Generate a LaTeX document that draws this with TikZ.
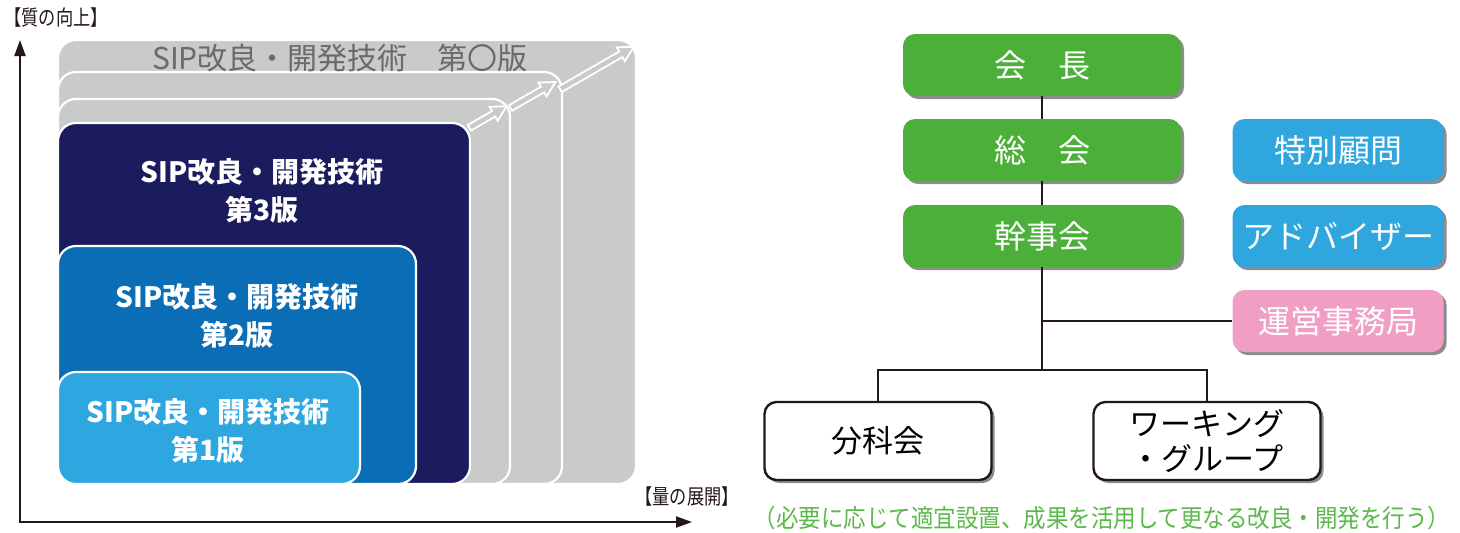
\documentclass[tikz,border=0pt]{standalone}
\usepackage{fontspec}
\newfontfamily\jpfont{Noto Sans CJK JP}
\usetikzlibrary{arrows.meta,shadows}
\definecolor{boxGray}{HTML}{C9CACA}
\definecolor{titleGray}{HTML}{6A6A6A}
\definecolor{navy}{HTML}{1A1C5E}
\definecolor{blueTwo}{HTML}{0A6DB5}
\definecolor{blueOne}{HTML}{2EA7E0}
\definecolor{orgGreen}{HTML}{4CAF3A}
\definecolor{sky}{HTML}{2FA6DE}
\definecolor{pinkish}{HTML}{F09EC3}
\definecolor{noteGreen}{HTML}{5BB84A}
\definecolor{axisBlack}{HTML}{231815}
\begin{document}
\begin{tikzpicture}
[x=0.5pt, y=-0.5pt,
  axisDecorate/.style={draw=axisBlack, line width=1pt,
    {Triangle[length=8pt,width=5.5pt]}-{Triangle[length=8pt,width=5.5pt]}},
  axisLabel/.style={font=\jpfont\fontsize{10.5}{10.5}\selectfont, text=axisBlack, inner sep=0pt},
  editionDecorate/.style={draw=white, line width=1.1pt, rounded corners=9pt},
  editionText/.style={font=\jpfont\bfseries\fontsize{14}{19}\selectfont, text=white, align=center, inner sep=0pt},
  growArrow/.style={draw=white, fill=boxGray, line width=0.9pt, line join=miter},
  orgDecorate/.style={rounded corners=6pt, inner sep=0pt, text=white,
    font=\jpfont\fontsize{16}{16}\selectfont,
    drop shadow={shadow xshift=1.5pt, shadow yshift=-1.5pt, fill=black, opacity=0.45}},
  greenDecorate/.style={orgDecorate, fill=orgGreen, minimum width=139pt, minimum height=31pt},
  sideDecorate/.style={orgDecorate, minimum width=105.5pt, minimum height=31pt},
  plainDecorate/.style={orgDecorate, fill=white, draw=axisBlack, line width=1.2pt, text=black,
    minimum width=113.5pt, minimum height=39pt, align=center,
    font=\jpfont\fontsize{15.5}{17.5}\selectfont},
  lineDecorate/.style={draw=axisBlack, line width=1pt}]
\useasboundingbox (0,0) rectangle (1460,532);
%% stacked editions
\foreach \xr/\yt/\colour in {
  636/40/boxGray, 562/72/boxGray, 510/99/boxGray,
  470/123/navy, 416/246/blueTwo, 360/372/blueOne}
{
  \filldraw[editionDecorate, fill=\colour] (58,484) rectangle (\xr,\yt);
}
\node (edition0) at (340,58) [font=\jpfont\fontsize{15}{15}\selectfont, text=titleGray, inner sep=0pt]
  {SIP改良・開発技術　第〇版};
\node (edition3) at (262,191) [editionText] {SIP改良・開発技術\\第3版};
\node (edition2) at (237,316) [editionText] {SIP改良・開発技術\\第2版};
\node (edition1) at (208,431) [editionText] {SIP改良・開発技術\\第1版};
%% growth arrows (half length in pt)
\foreach \x/\y/\h in {488/117/10.75, 533/95/13, 597/68/21.25}
{
  \filldraw[growArrow, shift={(\x,\y)}, rotate=30]
    (-\h pt,1.6pt) -- (\h pt-7.5pt,1.6pt) -- (\h pt-7.5pt,4pt) -- (\h pt,0pt)
    -- (\h pt-7.5pt,-4pt) -- (\h pt-7.5pt,-1.6pt) -- (-\h pt,-1.6pt) -- cycle;
}
%% axes
\coordinate (qualityEnd) at (20,40);
\coordinate (origin) at (20,522);
\coordinate (quantityEnd) at (692,522);
\draw[axisDecorate] (qualityEnd) -- (origin) -- (quantityEnd);
\node (qualityLabel) at (56,18) [axisLabel] {\scalebox{0.82}[1]{【質の向上】}};
\node (quantityLabel) at (687,497) [axisLabel] {\scalebox{0.82}[1]{【量の展開】}};
%% organisation nodes
\foreach \name/\y/\label in {kaicho/65/会　長, sokai/150/総　会, kanjikai/236/幹事会}
{
  \node (\name) at (1042,\y) [greenDecorate] {\label};
}
\node (komon) at (1338,150) [sideDecorate, fill=sky] {特別顧問};
\node (advisor) at (1338,236) [sideDecorate, fill=sky] {アドバイザー};
\node (jimukyoku) at (1338,321) [sideDecorate, fill=pinkish] {運営事務局};
\node (bunkakai) at (878,441) [plainDecorate] {分科会};
\node (wg) at (1207,441) [plainDecorate] {ワーキング\\・グループ};
%% organisation lines
\coordinate (branch) at (1042,370);
\path
\foreach \startnode/\endnode in {kaicho/sokai, sokai/kanjikai, kanjikai/branch}
{
  (\startnode) edge[lineDecorate] (\endnode)
};
\draw[lineDecorate] (kanjikai |- jimukyoku) -- (jimukyoku);
\draw[lineDecorate] (bunkakai) |- (branch) -| (wg);
\node (note) at (1102,518) [font=\jpfont\fontsize{12.5}{12.5}\selectfont, text=noteGreen, inner sep=0pt]
  {\scalebox{0.9}[1]{（必要に応じて適宜設置、成果を活用して更なる改良・開発を行う）}};
\end{tikzpicture}
\end{document}
